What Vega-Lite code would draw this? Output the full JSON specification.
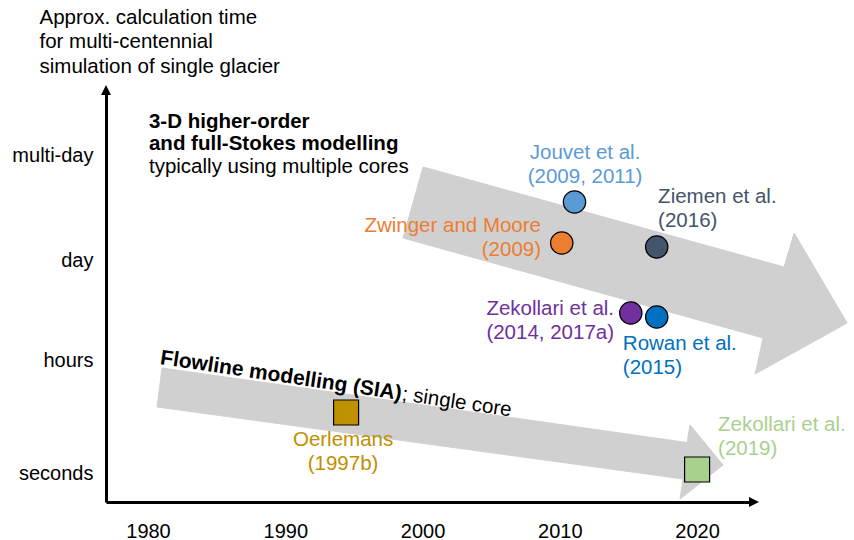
{
  "$schema": "https://vega.github.io/schema/vega-lite/v6.json",
  "width": 646,
  "height": 412,
  "autosize": {"type": "none"},
  "padding": {"left": 106, "top": 90, "right": 102, "bottom": 38},
  "background": "white",
  "config": {"view": {"stroke": null}, "font": "Liberation Sans", "text": {"font": "Liberation Sans"}},
  "datasets": {
    "arrows": [
      {"arrow": "3-D", "vertex": 1, "year": 2000.04, "level": 3.35},
      {"arrow": "3-D", "vertex": 2, "year": 2026.34, "level": 2.35},
      {"arrow": "3-D", "vertex": 3, "year": 2027.07, "level": 2.69},
      {"arrow": "3-D", "vertex": 4, "year": 2030.93, "level": 1.79},
      {"arrow": "3-D", "vertex": 5, "year": 2024.23, "level": 1.28},
      {"arrow": "3-D", "vertex": 6, "year": 2024.81, "level": 1.64},
      {"arrow": "3-D", "vertex": 7, "year": 1998.58, "level": 2.64},
      {"arrow": "3-D", "vertex": 8, "year": 2000.04, "level": 3.35},
      {"arrow": "Flowline", "vertex": 1, "year": 1981.02, "level": 1.34},
      {"arrow": "Flowline", "vertex": 2, "year": 2019.27, "level": 0.595},
      {"arrow": "Flowline", "vertex": 3, "year": 2019.49, "level": 0.77},
      {"arrow": "Flowline", "vertex": 4, "year": 2021.89, "level": 0.37},
      {"arrow": "Flowline", "vertex": 5, "year": 2018.76, "level": 0.03},
      {"arrow": "Flowline", "vertex": 6, "year": 2018.98, "level": 0.23},
      {"arrow": "Flowline", "vertex": 7, "year": 1980.66, "level": 0.95},
      {"arrow": "Flowline", "vertex": 8, "year": 1981.02, "level": 1.34}
    ],
    "markers": [
      {"study": "Jouvet", "model": "3-D", "year": 2011.07, "level": 3.0},
      {"study": "Zwinger", "model": "3-D", "year": 2010.14, "level": 2.59},
      {"study": "Ziemen", "model": "3-D", "year": 2017.06, "level": 2.55},
      {"study": "Zekollari2014", "model": "3-D", "year": 2015.17, "level": 1.89},
      {"study": "Rowan", "model": "3-D", "year": 2017.06, "level": 1.85},
      {"study": "Oerlemans", "model": "Flowline", "year": 1994.43, "level": 0.895},
      {"study": "Zekollari2019", "model": "Flowline", "year": 2020.0, "level": 0.325}
    ],
    "labels": [
      {"study": "Jouvet", "text": "Jouvet et al.\n(2009, 2011)", "year": 2011.84, "level": 3.49},
      {"study": "Zwinger", "text": "Zwinger and Moore\n(2009)", "year": 2008.63, "level": 2.76},
      {"study": "Ziemen", "text": "Ziemen et al.\n(2016)", "year": 2017.16, "level": 3.05},
      {"study": "Zekollari2014", "text": "Zekollari et al.\n(2014, 2017a)", "year": 2013.95, "level": 1.93},
      {"study": "Rowan", "text": "Rowan et al.\n(2015)", "year": 2014.59, "level": 1.58},
      {"study": "Oerlemans", "text": "Oerlemans\n(1997b)", "year": 1994.21, "level": 0.62},
      {"study": "Zekollari2019", "text": "Zekollari et al.\n(2019)", "year": 2021.53, "level": 0.77}
    ],
    "notes": [
      {"note": "3d-bold", "text": "3-D higher-order\nand full-Stokes modelling", "year": 1980.07, "level": 3.805},
      {"note": "3d-normal", "text": "typically using multiple cores", "year": 1980.07, "level": 3.35},
      {"note": "flow-bold", "text": "Flowline modelling (SIA)", "year": 1980.9, "level": 1.44},
      {"note": "flow-normal", "text": "; single core", "year": 1998.51, "level": 1.078}
    ],
    "heads": [
      {"head": "x", "year": 2024.0, "level": 0},
      {"head": "y", "year": 1976.94, "level": 4.12}
    ]
  },
  "encoding": {
    "x": {
      "field": "year", "type": "quantitative",
      "scale": {"domain": [1976.94, 2024.0], "nice": false, "zero": false},
      "axis": {
        "values": [1980, 1990, 2000, 2010, 2020], "format": "d", "title": null,
        "grid": false, "ticks": false, "tickSize": 0, "labelFlush": false,
        "domainColor": "black", "domainWidth": 3,
        "labelFontSize": 20, "labelColor": "black", "labelPadding": 19, "labelFont": "Liberation Sans"
      }
    },
    "y": {
      "field": "level", "type": "quantitative",
      "scale": {"domain": [0, 4.12], "nice": false, "zero": false},
      "axis": {
        "values": [0.29, 1.42, 2.42, 3.47],
        "labelExpr": "datum.value < 1 ? 'seconds' : datum.value < 2 ? 'hours' : datum.value < 3 ? 'day' : 'multi-day'",
        "title": ["Approx. calculation time", "for multi-centennial", "simulation of single glacier"],
        "titleAngle": 0, "titleAlign": "left", "titleBaseline": "middle",
        "titleX": -67, "titleY": -73, "titleFontSize": 20.5, "titleFontWeight": "normal",
        "titleLineHeight": 24.5, "titleColor": "black", "titleFont": "Liberation Sans",
        "grid": false, "ticks": false, "tickSize": 0, "labelFlush": false,
        "domainColor": "black", "domainWidth": 3,
        "labelFontSize": 20, "labelColor": "black", "labelPadding": 13, "labelFont": "Liberation Sans"
      }
    }
  },
  "layer": [
    {
      "data": {"name": "arrows"},
      "mark": {"type": "line", "fill": "#d0d0d0", "stroke": "#d0d0d0", "strokeWidth": 1, "clip": false},
      "encoding": {
        "detail": {"field": "arrow"},
        "order": {"field": "vertex", "type": "quantitative"}
      }
    },
    {
      "data": {"name": "notes"},
      "transform": [{"filter": "datum.note === '3d-bold'"}],
      "mark": {"type": "text", "align": "left", "baseline": "middle", "fontSize": 20.5, "fontWeight": "bold", "lineHeight": 22.5, "lineBreak": "\n", "color": "black"},
      "encoding": {"text": {"field": "text"}}
    },
    {
      "data": {"name": "notes"},
      "transform": [{"filter": "datum.note === '3d-normal'"}],
      "mark": {"type": "text", "align": "left", "baseline": "middle", "fontSize": 20.5, "color": "black"},
      "encoding": {"text": {"field": "text"}}
    },
    {
      "data": {"name": "notes"},
      "transform": [{"filter": "datum.note === 'flow-bold'"}],
      "mark": {"type": "text", "align": "left", "baseline": "middle", "fontSize": 21, "fontWeight": "bold", "angle": 8.5, "color": "black"},
      "encoding": {"text": {"field": "text"}}
    },
    {
      "data": {"name": "notes"},
      "transform": [{"filter": "datum.note === 'flow-normal'"}],
      "mark": {"type": "text", "align": "left", "baseline": "middle", "fontSize": 20.5, "angle": 8.5, "color": "black"},
      "encoding": {"text": {"field": "text"}}
    },
    {
      "data": {"name": "markers"},
      "mark": {"type": "point", "filled": true, "opacity": 1, "stroke": "black", "strokeWidth": 1.2, "clip": false},
      "encoding": {
        "color": {
          "field": "study", "type": "nominal", "legend": null,
          "scale": {
            "domain": ["Jouvet", "Zwinger", "Ziemen", "Zekollari2014", "Rowan", "Oerlemans", "Zekollari2019"],
            "range": ["#5b9bd5", "#ed7d31", "#44546a", "#7030a0", "#0070c0", "#bf9000", "#a9d18e"]
          }
        },
        "shape": {"field": "model", "type": "nominal", "legend": null, "scale": {"domain": ["3-D", "Flowline"], "range": ["circle", "square"]}},
        "size": {"field": "model", "type": "nominal", "legend": null, "scale": {"domain": ["3-D", "Flowline"], "range": [500, 625]}}
      }
    },
    {
      "data": {"name": "labels"},
      "transform": [{"filter": {"field": "study", "oneOf": ["Jouvet", "Oerlemans"]}}],
      "mark": {"type": "text", "align": "center", "baseline": "middle", "fontSize": 20.5, "lineHeight": 23.5, "lineBreak": "\n"},
      "encoding": {"text": {"field": "text"}, "color": {"field": "study", "type": "nominal", "legend": null}}
    },
    {
      "data": {"name": "labels"},
      "transform": [{"filter": {"field": "study", "oneOf": ["Zwinger", "Zekollari2014"]}}],
      "mark": {"type": "text", "align": "right", "baseline": "middle", "fontSize": 20.5, "lineHeight": 23.5, "lineBreak": "\n"},
      "encoding": {"text": {"field": "text"}, "color": {"field": "study", "type": "nominal", "legend": null}}
    },
    {
      "data": {"name": "labels"},
      "transform": [{"filter": {"field": "study", "oneOf": ["Ziemen", "Rowan", "Zekollari2019"]}}],
      "mark": {"type": "text", "align": "left", "baseline": "middle", "fontSize": 20.5, "lineHeight": 23.5, "lineBreak": "\n"},
      "encoding": {"text": {"field": "text"}, "color": {"field": "study", "type": "nominal", "legend": null}}
    },
    {
      "data": {"name": "heads"},
      "transform": [{"filter": "datum.head === 'y'"}],
      "mark": {"type": "point", "shape": "M0,-1L-1,1L1,1Z", "size": 100, "filled": true, "color": "black", "opacity": 1, "clip": false},
      "encoding": {}
    },
    {
      "data": {"name": "heads"},
      "transform": [{"filter": "datum.head === 'x'"}],
      "mark": {"type": "point", "shape": "M1.4,0L-0.6,-1L-0.6,1Z", "size": 100, "filled": true, "color": "black", "opacity": 1, "clip": false},
      "encoding": {}
    }
  ]
}
